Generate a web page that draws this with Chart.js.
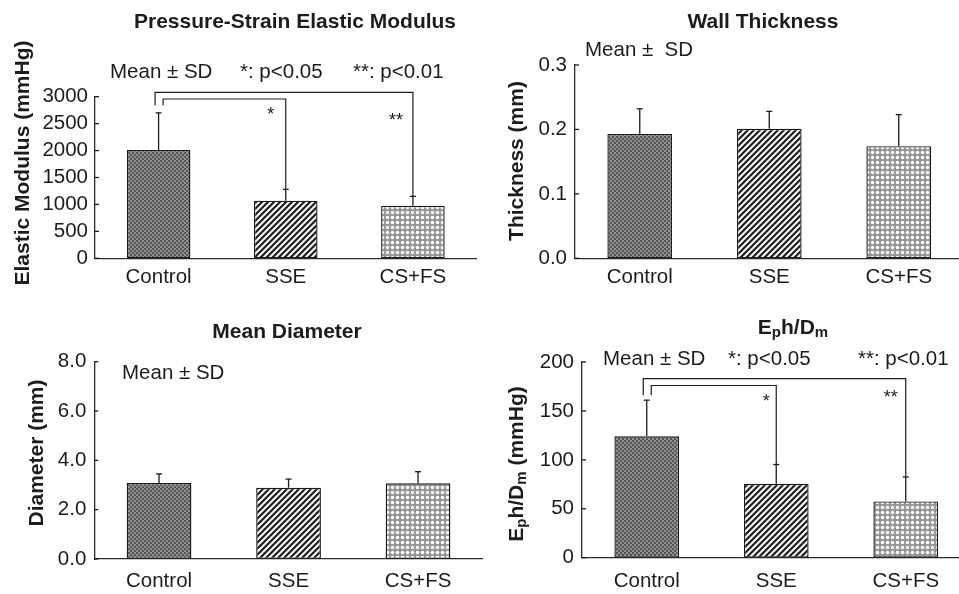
<!DOCTYPE html>
<html><head><meta charset="utf-8">
<script src="https://cdn.jsdelivr.net/npm/chart.js@4.4.1/dist/chart.umd.min.js"></script>
<style>
html,body{margin:0;padding:0;background:#fff;width:959px;height:594px;overflow:hidden;position:relative}
canvas{position:absolute}
</style></head><body>
<canvas id="c1" width="480" height="300" style="left:0;top:0"></canvas>
<canvas id="c2" width="490" height="300" style="left:480px;top:0"></canvas>
<canvas id="c3" width="490" height="294" style="left:0;top:300px"></canvas>
<canvas id="c4" width="500" height="294" style="left:480px;top:300px"></canvas>
<script>
// ---- data ----
const categories = ['Control', 'SSE', 'CS+FS'];

const modulusMean = [2010, 1070, 975];
const modulusSD = [690, 210, 175];
const modulusTicks = [0, 500, 1000, 1500, 2000, 2500, 3000];

const thicknessMean = [0.193, 0.201, 0.174];
const thicknessSD = [0.039, 0.027, 0.049];
const thicknessTicks = [0, 0.1, 0.2, 0.3];

const diameterMean = [3.08, 2.89, 3.07];
const diameterSD = [0.37, 0.35, 0.47];
const diameterTicks = [0, 2, 4, 6, 8];

const ephMean = [124, 75.5, 57.5];
const ephSD = [37, 19.7, 25];
const ephTicks = [0, 50, 100, 150, 200];

// significance brackets: [fromIndex, toIndex, bracketLevel, label, labelLevel]
const modulusBrackets = [[0, 1, 2957, '*', 2753], [0, 2, 3080, '**', 2641]];
const ephBrackets = [[0, 1, 176, '*', 164.5], [0, 2, 183, '**', 168.5]];

// ---- styling ----
const FONT = "'Liberation Sans', Arial, Helvetica, sans-serif";
const INK = '#1c1c1c';
const AXIS = '#2a2a2a';

function checkerPattern() {
  const c = document.createElement('canvas'); c.width = 4; c.height = 4;
  const g = c.getContext('2d');
  g.fillStyle = '#929292'; g.fillRect(0, 0, 4, 4);
  g.fillStyle = '#555555'; g.fillRect(0, 0, 2, 2); g.fillRect(2, 2, 2, 2);
  return g.createPattern(c, 'repeat');
}
function stripePattern() {
  const n = 6;
  const c = document.createElement('canvas'); c.width = n; c.height = n;
  const g = c.getContext('2d');
  const img = g.createImageData(n, n);
  for (let y = 0; y < n; y++) for (let x = 0; x < n; x++) {
    const d = (x + y) % n;
    const v = d < 3 ? (d === 1 ? 20 : 60) : (d === 4 ? 255 : 215);
    const i = (y * n + x) * 4;
    img.data[i] = img.data[i + 1] = img.data[i + 2] = v; img.data[i + 3] = 255;
  }
  g.putImageData(img, 0, 0);
  return g.createPattern(c, 'repeat');
}
function dotPattern() {
  const c = document.createElement('canvas'); c.width = 5; c.height = 5;
  const g = c.getContext('2d');
  g.fillStyle = '#959595'; g.fillRect(0, 0, 5, 5);
  g.fillStyle = '#ffffff';
  g.beginPath(); g.arc(2.5, 2.5, 1.75, 0, Math.PI * 2); g.fill();
  return g.createPattern(c, 'repeat');
}
const fills = [checkerPattern(), stripePattern(), dotPattern()];

function line(ctx, x1, y1, x2, y2) {
  ctx.beginPath(); ctx.moveTo(x1, y1); ctx.lineTo(x2, y2); ctx.stroke();
}
function drawRich(ctx, segs, x, y, rotate) {
  ctx.save();
  ctx.translate(x, y);
  if (rotate) ctx.rotate(-Math.PI / 2);
  let total = 0;
  segs.forEach(s => { ctx.font = s.font; s.w = ctx.measureText(s.t).width; total += s.w; });
  let cx = -total / 2;
  ctx.textAlign = 'left'; ctx.textBaseline = 'middle'; ctx.fillStyle = INK;
  segs.forEach(s => { ctx.font = s.font; ctx.fillText(s.t, cx, s.dy || 0); cx += s.w; });
  ctx.restore();
}
const BOLD = 'bold 21px ' + FONT;
const SUB = 'bold 15px ' + FONT;
const REG = '20.5px ' + FONT;

function annoPlugin(p) {
  return {
    id: 'anno_' + p.id,
    afterDatasetsDraw(chart) {
      const ctx = chart.ctx, xs = chart.scales.x, ys = chart.scales.y, a = chart.chartArea;
      ctx.save();
      ctx.strokeStyle = INK; ctx.lineWidth = 1.3;
      // inward tick marks on the y axis
      p.ticks.forEach(v => { const py = ys.getPixelForValue(v); line(ctx, a.left, py, a.left + 4, py); });
      // upper error bars
      p.mean.forEach((m, i) => {
        const px = xs.getPixelForValue(i);
        const y0 = ys.getPixelForValue(m), y1 = ys.getPixelForValue(m + p.sd[i]);
        line(ctx, px, y0, px, y1);
        line(ctx, px - 3, y1, px + 3, y1);
      });
      // significance brackets
      if (p.brackets) {
        ctx.lineWidth = 1.2;
        p.brackets.forEach((b, k) => {
          const [f, t, level, label, labelLevel] = b;
          const xl = xs.getPixelForValue(f) + (k === 0 ? 4.5 : -3.5);
          const xr = xs.getPixelForValue(t);
          const yl = ys.getPixelForValue(level);
          const yd = ys.getPixelForValue(p.dropLevel);
          const ye = ys.getPixelForValue(p.mean[t] + p.sd[t]);
          ctx.beginPath();
          ctx.moveTo(xl, yd); ctx.lineTo(xl, yl); ctx.lineTo(xr, yl); ctx.lineTo(xr, ye);
          ctx.stroke();
          ctx.font = '18px ' + FONT; ctx.fillStyle = INK;
          ctx.textAlign = 'center'; ctx.textBaseline = 'alphabetic';
          ctx.fillText(label, xr - p.starOffset[k], ys.getPixelForValue(labelLevel) + 10);
        });
      }
      // notes
      ctx.font = REG; ctx.fillStyle = INK; ctx.textAlign = 'left'; ctx.textBaseline = 'middle';
      p.notes.forEach(n => ctx.fillText(n[0], n[1], n[2]));
      ctx.restore();
      // titles
      drawRich(ctx, p.title, p.titlePos[0], p.titlePos[1], false);
      drawRich(ctx, p.yTitle, p.yTitlePos[0], p.yTitlePos[1], true);
    }
  };
}

function makeChart(id, p) {
  const fmt = v => p.dec ? Number(v).toFixed(p.dec) : String(v);
  return new Chart(document.getElementById(id), {
    type: 'bar',
    data: {
      labels: categories,
      datasets: [{
        data: p.mean,
        backgroundColor: fills,
        borderColor: INK,
        borderWidth: 1.4,
        borderSkipped: false,
        barPercentage: 0.5,
        categoryPercentage: 1
      }]
    },
    options: {
      responsive: false, animation: false, events: [], devicePixelRatio: 1,
      layout: { padding: { left: 0, top: p.T, right: p.W - p.R, bottom: 0 } },
      plugins: { legend: { display: false }, tooltip: { enabled: false }, title: { display: false } },
      scales: {
        x: {
          grid: { display: false, drawTicks: false },
          border: { display: true, color: AXIS, width: 1.3 },
          ticks: { color: INK, font: { family: FONT, size: 20.5 }, padding: p.xPad, maxRotation: 0, autoSkip: false },
          afterFit: s => { s.height = p.H - p.B; }
        },
        y: {
          min: p.ticks[0], max: p.ticks[p.ticks.length - 1],
          grid: { display: false, drawTicks: false },
          border: { display: true, color: AXIS, width: 1.3 },
          ticks: { color: INK, font: { family: FONT, size: 20.5, lineHeight: 1 }, padding: p.yPad, autoSkip: false, callback: v => fmt(v) },
          afterBuildTicks: s => { s.ticks = p.ticks.map(v => ({ value: v })); },
          afterFit: s => { s.width = p.L; }
        }
      }
    },
    plugins: [annoPlugin(p)]
  });
}

makeChart('c1', {
  id: 1, W: 480, H: 300, L: 95, R: 476.5, T: 96.7, B: 258.3, xPad: 6.4, yPad: 7,
  mean: modulusMean, sd: modulusSD, ticks: modulusTicks, dec: 0,
  brackets: modulusBrackets, dropLevel: 2840, starOffset: [15, 17],
  title: [{ t: 'Pressure-Strain Elastic Modulus', font: BOLD }], titlePos: [295, 22],
  yTitle: [{ t: 'Elastic Modulus (mmHg)', font: BOLD }], yTitlePos: [23, 163],
  notes: [['Mean \u00B1 SD', 110, 72], ['*: p<0.05', 240, 72], ['**: p<0.01', 353, 72]]
});
makeChart('c2', {
  id: 2, W: 490, H: 300, L: 95, R: 483.5, T: 65, B: 258.3, xPad: 6.4, yPad: 8,
  mean: thicknessMean, sd: thicknessSD, ticks: thicknessTicks, dec: 1,
  title: [{ t: 'Wall Thickness', font: BOLD }], titlePos: [283, 22],
  yTitle: [{ t: 'Thickness (mm)', font: BOLD }], yTitlePos: [37, 161],
  notes: [['Mean \u00B1  SD', 105, 50]]
});
makeChart('c3', {
  id: 3, W: 490, H: 294, L: 94.3, R: 482.8, T: 61.7, B: 259, xPad: 10.4, yPad: 8,
  mean: diameterMean, sd: diameterSD, ticks: diameterTicks, dec: 1,
  title: [{ t: 'Mean Diameter', font: BOLD }], titlePos: [287, 32],
  yTitle: [{ t: 'Diameter (mm)', font: BOLD }], yTitlePos: [37, 153],
  notes: [['Mean \u00B1 SD', 122, 73]]
});
makeChart('c4', {
  id: 4, W: 500, H: 294, L: 102, R: 490.5, T: 62, B: 257.7, xPad: 11.7, yPad: 8,
  mean: ephMean, sd: ephSD, ticks: ephTicks, dec: 0,
  brackets: ephBrackets, dropLevel: 166, starOffset: [10, 15],
  title: [{ t: 'E', font: BOLD }, { t: 'p', font: SUB, dy: 5 }, { t: 'h/D', font: BOLD }, { t: 'm', font: SUB, dy: 5 }],
  titlePos: [313, 28],
  yTitle: [{ t: 'E', font: BOLD }, { t: 'p', font: SUB, dy: 5 }, { t: 'h/D', font: BOLD }, { t: 'm', font: SUB, dy: 5 }, { t: ' (mmHg)', font: BOLD }],
  yTitlePos: [37, 164],
  notes: [['Mean \u00B1 SD', 123, 59], ['*: p<0.05', 248, 59], ['**: p<0.01', 378, 59]]
});
</script>
</body></html>
